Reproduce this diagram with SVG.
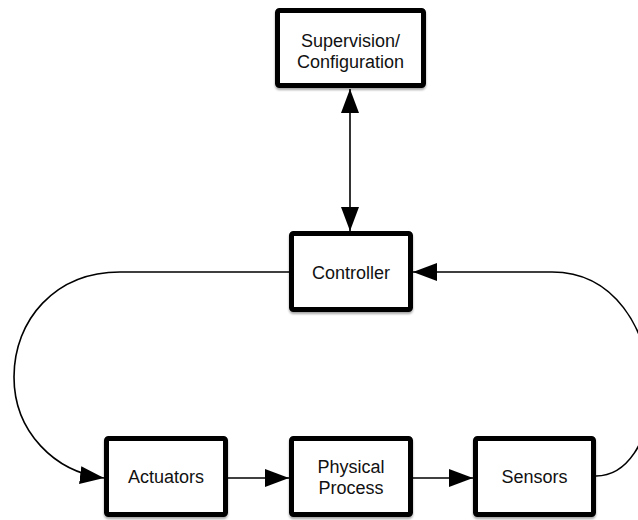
<svg xmlns="http://www.w3.org/2000/svg" width="638" height="520" viewBox="0 0 638 520">
  <defs>
    <filter id="shadow" x="-10%" y="-10%" width="120%" height="130%">
      <feDropShadow dx="0" dy="2" stdDeviation="1.2" flood-color="#000" flood-opacity="0.35"/>
    </filter>
    <marker id="arrow" markerUnits="userSpaceOnUse" markerWidth="25" markerHeight="19" refX="24" refY="9" orient="auto-start-reverse">
      <path d="M0,0 L24,9 L0,18 Z" fill="#000"/>
    </marker>
    <style>
      .box { fill: #fff; stroke: #000; stroke-width: 5; filter: url(#shadow); }
      .label { font-family: "Liberation Sans", Arial, Helvetica, sans-serif; font-size: 18px; fill: #111; text-anchor: middle; }
      .wire { fill: none; stroke: #000; stroke-width: 1.6; }
    </style>
  </defs>
  <rect width="638" height="520" fill="#fff"/>

  <g id="connectors">
    <!-- supervision <-> controller -->
    <path class="wire" d="M350,89 L350,231" marker-start="url(#arrow)" marker-end="url(#arrow)"/>
    <!-- controller -> actuators (left loop) -->
    <path class="wire" d="M289,272 L120,272 C55,272 14,320 14,377 C14,432 55,472 104,478" marker-end="url(#arrow)"/>
    <!-- actuators -> physical process -->
    <path class="wire" d="M228,478 L289,478" marker-end="url(#arrow)"/>
    <!-- physical process -> sensors -->
    <path class="wire" d="M413,478 L473,478" marker-end="url(#arrow)"/>
    <!-- sensors -> controller (right loop) -->
    <path class="wire" d="M596,476 C626,476 650,442 650,395 C650,326 612,272 552,272 L413,272" marker-end="url(#arrow)"/>
  </g>

  <g id="supervision">
    <rect class="box" x="277.5" y="10.5" width="146" height="75" rx="2"/>
    <text class="label" x="350.5" y="47">Supervision/</text>
    <text class="label" x="350.5" y="68">Configuration</text>
  </g>

  <g id="controller">
    <rect class="box" x="291.5" y="233.5" width="119" height="76" rx="2"/>
    <text class="label" x="351" y="279">Controller</text>
  </g>

  <g id="actuators">
    <rect class="box" x="106.5" y="438.5" width="119" height="76" rx="2"/>
    <text class="label" x="166" y="483">Actuators</text>
  </g>

  <g id="physical-process">
    <rect class="box" x="291.5" y="438.5" width="119" height="76" rx="2"/>
    <text class="label" x="351" y="473">Physical</text>
    <text class="label" x="351" y="494">Process</text>
  </g>

  <g id="sensors">
    <rect class="box" x="475.5" y="438.5" width="118" height="76" rx="2"/>
    <text class="label" x="534.5" y="483">Sensors</text>
  </g>
</svg>
